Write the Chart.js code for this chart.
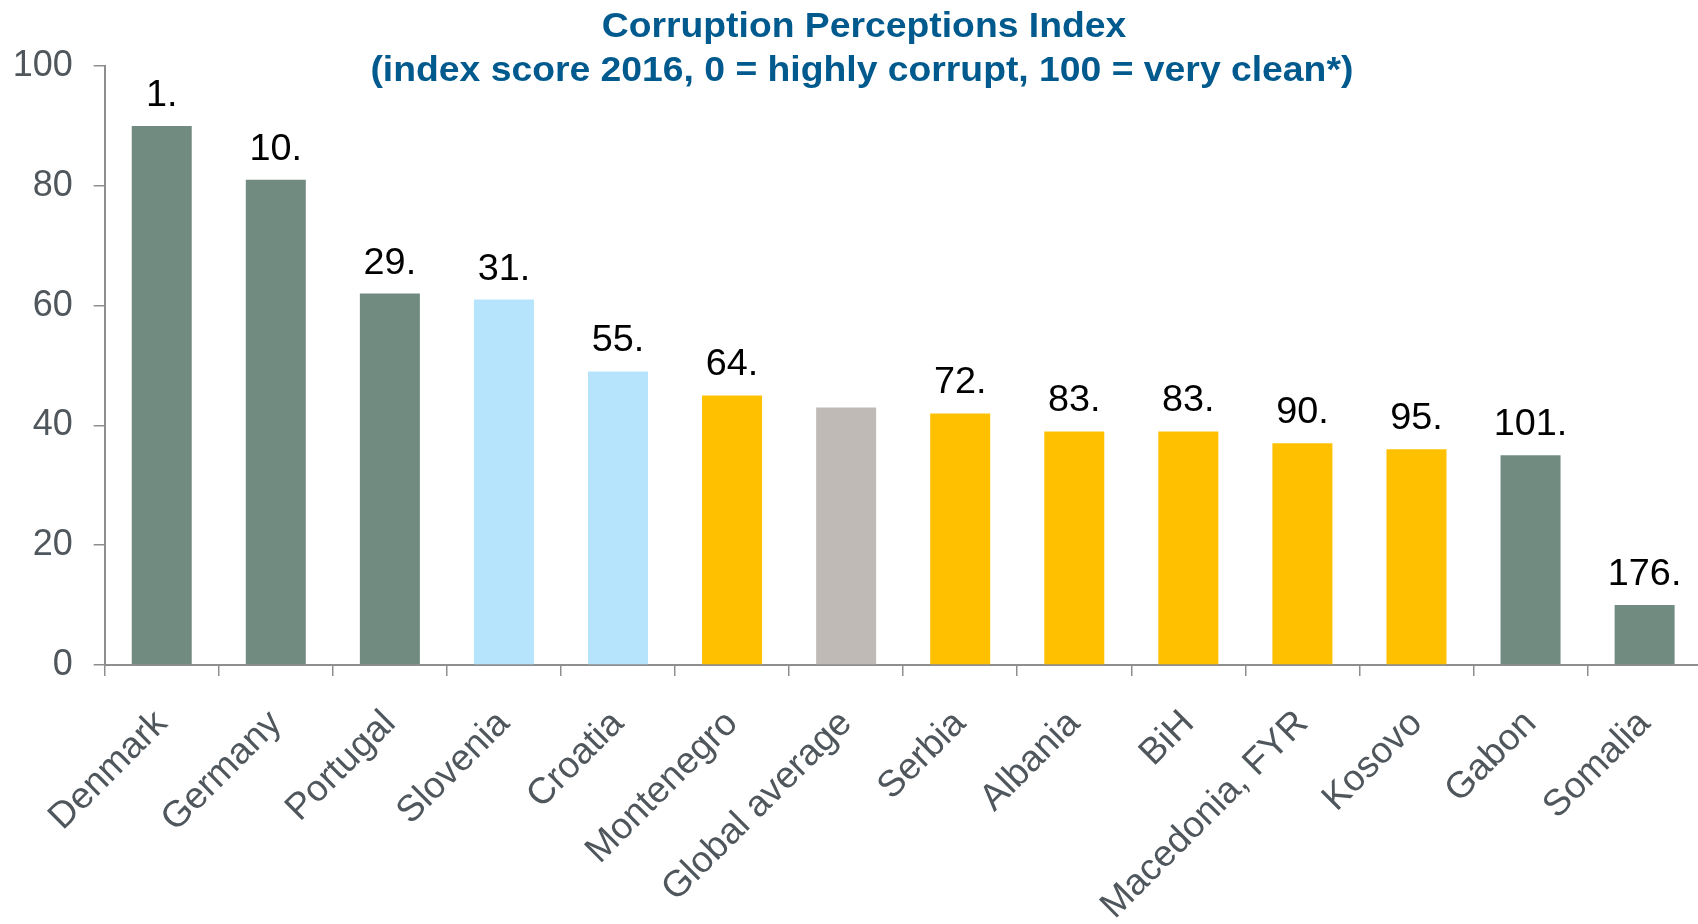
<!DOCTYPE html>
<html>
<head>
<meta charset="utf-8">
<script src="https://cdn.jsdelivr.net/npm/chart.js@4/dist/chart.umd.min.js"></script>
<style>
  html, body { margin: 0; padding: 0; background: #ffffff; overflow: hidden; }
  #wrap { position: relative; width: 1702px; height: 924px; }
  canvas { display: block; }
</style>
</head>
<body>
<div id="wrap"><canvas id="c" width="1702" height="924"></canvas></div>
<script>
// ---- data ----
const categories = ["Denmark", "Germany", "Portugal", "Slovenia", "Croatia", "Montenegro",
  "Global average", "Serbia", "Albania", "BiH", "Macedonia, FYR", "Kosovo", "Gabon", "Somalia"];
const scores = [90, 81, 62, 61, 49, 45, 43, 42, 39, 39, 37, 36, 35, 10];
const ranks = ["1.", "10.", "29.", "31.", "55.", "64.", "", "72.", "83.", "83.", "90.", "95.", "101.", "176."];
const groups = ["other", "other", "other", "eu", "eu", "wb", "avg", "wb", "wb", "wb", "wb", "wb", "other", "other"];
const yTicks = [0, 20, 40, 60, 80, 100];
const titleLines = ["Corruption Perceptions Index", "(index score 2016, 0 = highly corrupt, 100 = very clean*)"];

// ---- styles ----
const groupColors = { other: "#728b80", eu: "#b7e4fd", wb: "#ffc000", avg: "#bfbab6" };
const FONT = "'Liberation Sans', Arial, sans-serif";
const AXIS = "#8e8e8e";

const titlePlugin = {
  id: "titleText",
  afterDraw(chart) {
    const ctx = chart.ctx;
    ctx.save();
    ctx.fillStyle = "#005a8e";
    ctx.font = "bold 35px " + FONT;
    ctx.textAlign = "center";
    ctx.textBaseline = "alphabetic";
    ctx.translate(864, 0);
    ctx.scale(1.066, 1);
    ctx.fillText(titleLines[0], 0, 37);
    ctx.fillText(titleLines[1], -2, 81);
    ctx.restore();
  }
};

const labelPlugin = {
  id: "rankLabels",
  afterDatasetsDraw(chart) {
    const ctx = chart.ctx;
    const meta = chart.getDatasetMeta(0);
    ctx.save();
    ctx.fillStyle = "#000000";
    ctx.font = "36px " + FONT;
    ctx.textAlign = "center";
    ctx.textBaseline = "alphabetic";
    meta.data.forEach((bar, i) => {
      if (ranks[i]) {
        ctx.save();
        ctx.translate(bar.x, bar.y - 20);
        ctx.scale(1.05, 1);
        ctx.fillText(ranks[i], 0, 0);
        ctx.restore();
      }
    });
    ctx.restore();
  }
};

new Chart(document.getElementById("c"), {
  type: "bar",
  data: {
    labels: categories,
    datasets: [{
      data: scores,
      backgroundColor: groups.map(g => groupColors[g]),
      borderWidth: 0,
      barPercentage: 0.526,
      categoryPercentage: 1.0
    }]
  },
  options: {
    responsive: false,
    animation: false,
    devicePixelRatio: 1,
    layout: { padding: { top: 66, right: 0, bottom: 0, left: 0 } },
    plugins: { legend: { display: false }, tooltip: { enabled: false }, title: { display: false } },
    scales: {
      x: {
        grid: { display: true, drawOnChartArea: false, drawTicks: true, tickLength: 11, color: AXIS, lineWidth: 1.5, offset: true },
        border: { display: true, color: AXIS, width: 2 },
        ticks: {
          autoSkip: false, maxRotation: 45, minRotation: 45, padding: 26,
          color: "#50575c", font: { family: FONT, size: 37 }
        },
        afterFit(scale) { scale.height = 924 - 665 - 0; }
      },
      y: {
        min: 0, max: 100,
        afterBuildTicks(scale) { scale.ticks = yTicks.map(v => ({ value: v })); },
        grid: { display: true, drawOnChartArea: false, drawTicks: true, tickLength: 11, color: AXIS, lineWidth: 1.5 },
        border: { display: true, color: AXIS, width: 2 },
        ticks: { padding: 21, color: "#50575c", font: { family: FONT, size: 36 } },
        afterFit(scale) { scale.width = 104.7; }
      }
    }
  },
  plugins: [titlePlugin, labelPlugin]
});
</script>
</body>
</html>
